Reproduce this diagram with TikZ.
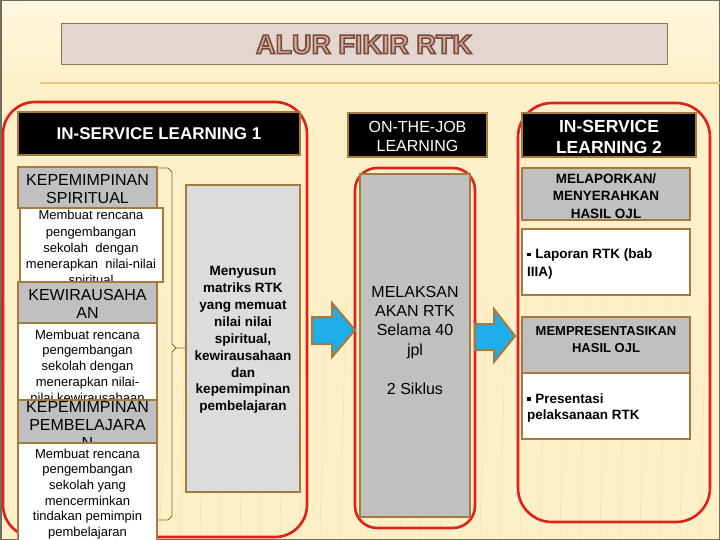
\documentclass[tikz,border=0pt]{standalone}
\usepackage{fontspec}
\setmainfont{Liberation Sans}
\definecolor{bg}{HTML}{FDF0C8}
\definecolor{bgl}{HTML}{FFF7DE}
\definecolor{brn}{HTML}{A57A3C}
\definecolor{brc}{HTML}{8B6A3A}
\definecolor{redf}{HTML}{E0201A}
\definecolor{gry}{HTML}{C0C0C0}
\definecolor{lgry}{HTML}{DCDCDC}
\definecolor{blu}{HTML}{1EAEEA}
\definecolor{ttlbg}{HTML}{E3D6CF}
\definecolor{ttlbd}{HTML}{8E7656}
\definecolor{ttlfill}{HTML}{D2AE9E}
\definecolor{ttlline}{HTML}{7A4A3A}
\definecolor{gold}{HTML}{EBC46E}
\definecolor{edge}{HTML}{6E6E60}
\newcommand{\sqb}{\raisebox{0.18em}{\rule{3.5pt}{3.5pt}}\hspace{0.35em}}
\newcommand{\outlinedtext}[1]{\special{pdf:literal direct 2 Tr 1.6 w 0.478 0.29 0.227 RG}#1\special{pdf:literal direct 0 Tr}}
\begin{document}
\begin{tikzpicture}[x=1pt,y=-1pt,
  bx/.style={draw=brn,line width=2.5pt,inner sep=0pt},
  blackbx/.style={bx,fill=black},
  graybx/.style={bx,fill=gry},
  lgraybx/.style={bx,fill=lgry},
  whitebx/.style={bx,fill=white},
  redframe/.style={draw=redf,line width=2.6pt},
  blockarrow/.style={fill=blu,draw=brn,line width=2pt,line join=miter},
  ttlfont/.style={font=\bfseries\fontsize{27}{27}\selectfont,inner sep=0pt},
  txt/.style={inner sep=0pt,align=center}]
\useasboundingbox (0,0) rectangle (720,540);
% background
\fill[bg] (0,0) rectangle (720,540);
\shade[top color=bgl,bottom color=bg] (0,0) rectangle (720,95);
\foreach \i in {0,...,35}{
  \draw[gold,opacity=0.16,line width=1.2pt] (\i*20,540) -- (\i*20+6,300);
}
\draw[edge,line width=1.5pt] (0.75,0.75) rectangle (719.25,539.25);
\draw[gold,line width=1.2pt] (40,83) -- (720,83);
% title
\node[draw=ttlbd,fill=ttlbg,line width=1pt,minimum width=606pt,minimum height=41pt,inner sep=0pt] (ttl) at (364,44.5) {};
\node[ttlfont,text=ttlfill] (ttlt) at (364,44.5) {\outlinedtext{ALUR FIKIR RTK}};
% red frames
\draw[redframe,rounded corners=32pt] (3,102) rectangle (307,537);
\draw[redframe,rounded corners=22pt] (355,168) rectangle (475,528);
\draw[redframe,rounded corners=34pt] (518,103) rectangle (710,522);
% left column
\node[blackbx,minimum width=282pt,minimum height=43pt] (isl1) at (159,133.5) {};
\node[txt,text=white,font=\bfseries\fontsize{17}{20}\selectfont] (isl1t) at (159,133.5) {IN-SERVICE LEARNING 1};

\node[graybx,minimum width=139pt,minimum height=41pt] (ks) at (87.5,187.5) {};
\node[txt,font=\fontsize{16}{18}\selectfont] (kst) at (87.5,189) {KEPEMIMPINAN\\SPIRITUAL};
\node[whitebx,minimum width=143pt,minimum height=74pt] (w1) at (91.5,245) {};
\node[txt,font=\fontsize{13}{16.3}\selectfont] (w1t) at (91,249) {Membuat rencana\\pengembangan\\sekolah \ dengan\\menerapkan \ nilai-nilai\\spiritual};

\node[graybx,minimum width=139pt,minimum height=41pt] (kw) at (87.5,302.5) {};
\node[txt,font=\fontsize{16}{18.5}\selectfont] (kwt) at (87.5,304) {KEWIRAUSAHA\\AN};
\node[whitebx,minimum width=139pt,minimum height=77pt] (w2) at (87.5,361.5) {};
\node[txt,font=\fontsize{13}{15.8}\selectfont] (w2t) at (87.5,366) {Membuat rencana\\pengembangan\\sekolah dengan\\menerapkan nilai-\\nilai kewirausahaan};

\node[graybx,minimum width=139pt,minimum height=43pt] (kp) at (87.5,421.5) {};
\node[txt,font=\fontsize{16}{18}\selectfont] (kpt) at (87.5,425) {KEPEMIMPINAN\\PEMBELAJARA\\N};
\node[whitebx,minimum width=139pt,minimum height=99pt] (w3) at (87.5,492.5) {};
\node[txt,font=\fontsize{13}{15.6}\selectfont] (w3t) at (87.5,494) {Membuat rencana\\pengembangan\\sekolah yang\\mencerminkan\\tindakan pemimpin\\pembelajaran};

% brace
\coordinate (bt) at (158,168);
\coordinate (bb) at (158,520);
\coordinate (bm) at (185,348);
\draw[brc,line width=0.9pt,line join=round] (bt) -- (168,168) -- (172,172) -- (172,344) -- (176,348) -- (bm);
\draw[brc,line width=0.9pt,line join=round] (176,348) -- (172,352) -- (172,516) -- (168,520) -- (bb);

\node[lgraybx,minimum width=114pt,minimum height=307pt] (mny) at (243,338.5) {};
\node[txt,font=\bfseries\fontsize{13.5}{16.9}\selectfont] (mnyt) at (243,340) {Menyusun\\matriks RTK\\yang memuat\\nilai nilai\\spiritual,\\kewirausahaan\\dan\\kepemimpinan\\pembelajaran};

% middle column
\node[blackbx,minimum width=139pt,minimum height=44pt] (ojl) at (417.5,135) {};
\node[txt,text=white,font=\fontsize{16}{19.5}\selectfont] (ojlt) at (417.5,136.5) {ON-THE-JOB\\LEARNING};
\node[graybx,minimum width=110pt,minimum height=343pt] (mid) at (415,345.5) {};
\node[txt,font=\fontsize{16}{19.4}\selectfont] (midt) at (415,340) {MELAKSAN\\AKAN RTK\\Selama 40\\jpl\\[19.4pt]2 Siklus};

% right column
\node[blackbx,minimum width=174pt,minimum height=44pt] (isl2) at (609,135) {};
\node[txt,text=white,font=\bfseries\fontsize{17.5}{21}\selectfont] (isl2t) at (609,136.5) {IN-SERVICE\\LEARNING 2};
\node[graybx,minimum width=168pt,minimum height=52pt] (mel) at (606,194) {};
\node[txt,font=\bfseries\fontsize{13.5}{17.5}\selectfont] (melt) at (606,196) {MELAPORKAN/\\MENYERAHKAN\\HASIL OJL};
\node[whitebx,minimum width=168pt,minimum height=66pt] (lap) at (606,262) {};
\node[txt,align=left,anchor=west,font=\bfseries\fontsize{13.5}{17.5}\selectfont] (lapt) at (527,264) {\sqb Laporan RTK (bab\\IIIA)};
\node[graybx,minimum width=168pt,minimum height=56pt] (mem) at (606,345) {};
\node[txt,font=\bfseries\fontsize{13}{17}\selectfont] (memt) at (606,340) {MEMPRESENTASIKAN\\HASIL OJL};
\node[whitebx,minimum width=168pt,minimum height=66pt] (pres) at (606,406) {};
\node[txt,align=left,anchor=west,font=\bfseries\fontsize{13.5}{16.5}\selectfont] (prest) at (527,408) {\sqb Presentasi\\pelaksanaan RTK};

% block arrows
\draw[blockarrow] (312,317) -- (332,317) -- (332,303) -- (355,330) -- (332,357) -- (332,344) -- (312,344) -- cycle;
\draw[blockarrow] (475,324) -- (494,324) -- (494,309) -- (515,336) -- (494,362) -- (494,350) -- (475,350) -- cycle;
\end{tikzpicture}
\end{document}
